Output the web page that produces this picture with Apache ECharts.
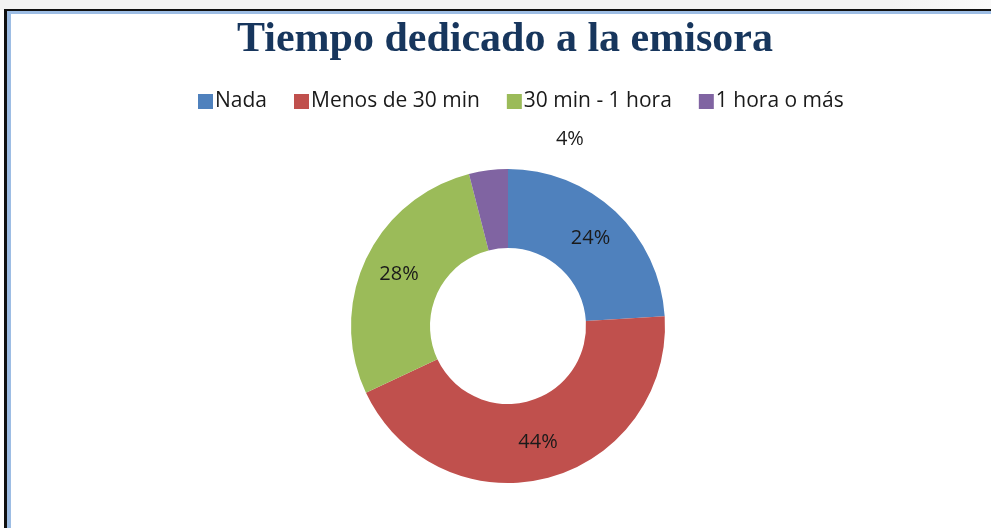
<!DOCTYPE html>
<html>
<head>
<meta charset="utf-8">
<script src="https://cdn.jsdelivr.net/npm/echarts@6/dist/echarts.min.js"></script>
<style>
  html, body { margin: 0; padding: 0; background: #fff; }
  .strip { position: absolute; left: 0; top: 0; width: 991px; height: 10px;
    background: linear-gradient(to right, #f3f3f3, #f3f3f3 90%, #fafafa); }
  .frame { position: absolute; left: 4px; top: 9px; width: 1000px; height: 540px;
    border-left: 3px solid #111; border-top: 2px solid #111; }
  .frame-in { width: 100%; height: 100%; border-left: 4px solid #9dbde4; border-top: 3px solid #9dbde4; }
  #chart { position: absolute; left: 0; top: 0; width: 991px; height: 528px; }
</style>
</head>
<body>
<div class="strip"></div>
<div class="frame"><div class="frame-in"></div></div>
<div id="chart"></div>
<script>
// datos del grafico
var categorias = ['Nada', 'Menos de 30 min', '30 min - 1 hora', '1 hora o más']
var porcentajes = [24, 44, 28, 4]
var colores = ['#4f81bd', '#c0504d', '#9bbb59', '#8064a2']

var myChart = echarts.init(document.getElementById('chart'))

var seriesData = []
for (var i = 0; i < categorias.length; i++) {
  seriesData.push({
    name: categorias[i],
    value: porcentajes[i],
    itemStyle: { color: colores[i] }
  })
}

var option = {
  animation: false,
  title: {
    text: 'Tiempo dedicado a la emisora',
    left: 232,
    top: 14,
    textStyle: {
      fontFamily: 'Liberation Serif',
      fontWeight: 'bold',
      fontSize: 42,
      color: '#17365d'
    }
  },
  legend: {
    data: categorias,
    left: 193,
    top: 86,
    icon: 'rect',
    itemWidth: 15,
    itemHeight: 15,
    itemGap: 27,
    textStyle: {
      fontFamily: 'Open Sans',
      fontSize: 21,
      color: '#1a1a1a',
      padding: [0, 0, 0, -3]
    }
  },
  series: [
    {
      type: 'pie',
      center: [508, 326],
      radius: [78, 157],
      startAngle: 90,
      clockwise: true,
      avoidLabelOverlap: false,
      label: {
        show: true,
        position: 'inside',
        formatter: '{c}%',
        fontFamily: 'Open Sans',
        fontSize: 20,
        color: '#1a1a1a'
      },
      labelLine: { show: false },
      labelLayout: function (params) {
        if (params.dataIndex === 3) {
          return { dx: 77, dy: -67 }
        }
        return {}
      },
      emphasis: { disabled: true },
      data: seriesData
    }
  ]
}
myChart.setOption(option)
</script>
</body>
</html>
